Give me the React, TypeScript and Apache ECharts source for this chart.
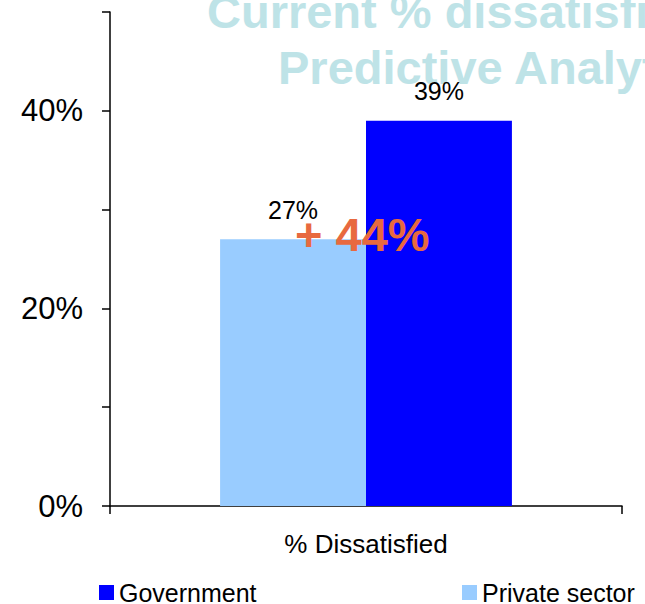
import React, { useEffect, useRef } from "react";
import * as echarts from "echarts";

const categories = ["% Dissatisfied"];
const seriesNames = ["Private sector", "Government"];
const privateValues = [27];
const governmentValues = [39];
const titleLines = ["Current % dissatisfied", "Predictive Analytics"];
const annotation = "+ 44%";
const FONT = "'Liberation Sans', Arial, Helvetica, sans-serif";

export default function App() {
  const ref = useRef<HTMLDivElement>(null);
  useEffect(() => {
    document.body.style.margin = "0";
    if (!ref.current) return;
    const chart = echarts.init(ref.current, null, { renderer: "svg" });
    const labelStyle = {
      show: true,
      position: "top",
      distance: 17,
      formatter: "{c}%",
      fontSize: 25,
      color: "#000",
      fontFamily: FONT,
    };
    chart.setOption({
      animation: false,
      backgroundColor: "#ffffff",
      textStyle: { fontFamily: FONT },
      grid: { left: 110, right: 23, top: 12, bottom: 98 },
      legend: [
        {
          data: ["Government"],
          left: 99,
          top: 580,
          padding: 0,
          itemWidth: 15,
          itemHeight: 15,
          itemGap: 6,
          icon: "rect",
          textStyle: { fontSize: 25, color: "#000", fontFamily: FONT },
        },
        {
          data: ["Private sector"],
          left: 462,
          top: 580,
          padding: 0,
          itemWidth: 15,
          itemHeight: 15,
          icon: "rect",
          textStyle: { fontSize: 25, color: "#000", fontFamily: FONT },
        },
      ],
      xAxis: {
        type: "category",
        data: categories,
        axisLine: { lineStyle: { color: "#000", width: 1.5 } },
        axisTick: { show: true, length: 8, lineStyle: { color: "#000", width: 1.5 } },
        axisLabel: { fontSize: 26, color: "#000", margin: 25, fontFamily: FONT },
      },
      yAxis: {
        type: "value",
        min: 0,
        max: 50,
        interval: 10,
        splitLine: { show: false },
        axisLine: { show: true, lineStyle: { color: "#000", width: 1.5 } },
        axisTick: { show: true, length: 8, lineStyle: { color: "#000", width: 1.5 } },
        axisLabel: {
          fontSize: 31,
          color: "#000",
          margin: 27,
          fontFamily: FONT,
          formatter: (v: number) => (v % 20 === 0 && v < 50 ? `${v}%` : ""),
        },
      },
      series: [
        {
          name: seriesNames[0],
          type: "bar",
          data: privateValues,
          barGap: "0%",
          barCategoryGap: "43%",
          itemStyle: { color: "#99CCFF" },
          label: labelStyle,
        },
        {
          name: seriesNames[1],
          type: "bar",
          data: governmentValues,
          barGap: "0%",
          barCategoryGap: "43%",
          itemStyle: { color: "#0000FF" },
          label: labelStyle,
        },
      ],
      graphic: [
        {
          type: "text",
          left: 207,
          top: -12,
          z: 0,
          style: {
            text: titleLines[0],
            fontSize: 47,
            fontWeight: "bold",
            fill: "#BEE3E7",
            fontFamily: FONT,
          },
        },
        {
          type: "text",
          left: 278,
          top: 44,
          z: 0,
          style: {
            text: titleLines[1],
            fontSize: 47,
            fontWeight: "bold",
            fill: "#BEE3E7",
            fontFamily: FONT,
          },
        },
        {
          type: "text",
          left: 295,
          top: 211,
          z: 100,
          style: {
            text: annotation,
            fontSize: 47,
            fontWeight: "bold",
            fill: "#E8693F",
            fontFamily: FONT,
          },
        },
      ],
    });
    return () => chart.dispose();
  }, []);
  return <div ref={ref} style={{ width: 645, height: 604 }} />;
}
